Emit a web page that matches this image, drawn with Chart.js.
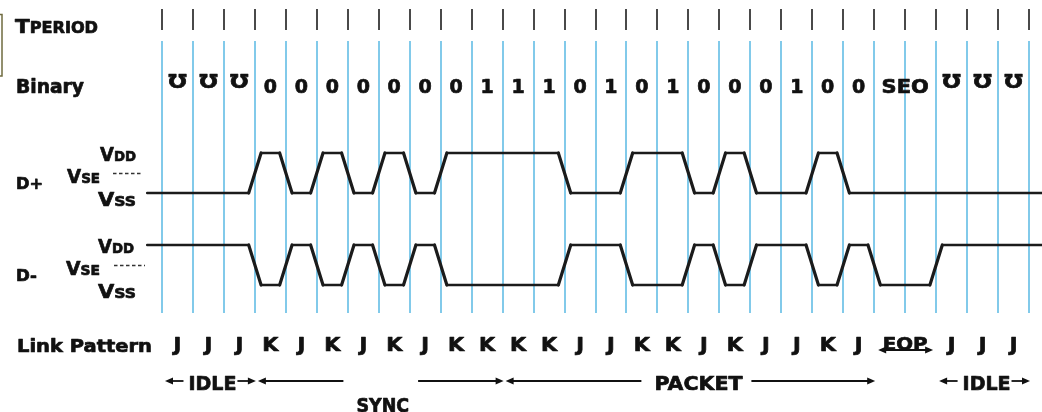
<!DOCTYPE html>
<html>
<head>
<meta charset="utf-8">
<script src="https://cdn.jsdelivr.net/npm/chart.js@4.4.1/dist/chart.umd.min.js"></script>
<style>
html,body{margin:0;padding:0;background:#fff;overflow:hidden}
#wrap{width:1042px;height:412px;position:relative}
canvas{display:block}
</style>
</head>
<body>
<div id="wrap"><canvas id="c" width="1042" height="412"></canvas></div>
<script>
// ---------------- data ----------------
const periodCount = 28;
const IDLE_SYM = '\u01B1';
const binaryLabels = [IDLE_SYM, IDLE_SYM, IDLE_SYM, '0','0','0','0','0','0','0','1','1','1','0','1','0','1','0','0','0','1','0','0','SEO', IDLE_SYM, IDLE_SYM, IDLE_SYM];
const binarySpans  = [1,1,1, 1,1,1,1,1,1,1,1,1,1,1,1,1,1,1,1,1,1,1,1, 2, 1,1,1];
const linkLabels   = ['J','J','J','K','J','K','J','K','J','K','K','K','K','J','J','K','K','J','K','J','J','K','J','EOP','J','J','J'];
const linkSpans    = [1,1,1, 1,1,1,1,1,1,1,1,1,1,1,1,1,1,1,1,1,1,1,1, 2, 1,1,1];
// line level per bit period (1 = VDD, 0 = VSS)
const dPlusLevels  = [0,0,0,1,0,1,0,1,0,1,1,1,1,0,0,1,1,0,1,0,0,1,0,0,0,0,0,0];
const dMinusLevels = [1,1,1,0,1,0,1,0,1,0,0,0,0,1,1,0,0,1,0,1,1,0,1,0,0,1,1,1];
const phaseNames  = ['IDLE','SYNC','PACKET','IDLE'];
const phaseStarts = [0, 3, 11, 25];
const phaseEnds   = [3, 11, 23, 28];

// ---------------- helpers ----------------
const FONT = '"DejaVu Sans", "Liberation Sans", sans-serif';
const CAP = 0.729;
const INK = '#111111';
const HEAVY = 0.7;

function wavePoints(levels){
  const pts = [{x:-0.48, y:levels[0]}];
  for (let k = 1; k < levels.length; k++){
    if (levels[k] !== levels[k-1]){
      pts.push({x:k-0.2, y:levels[k-1]});
      pts.push({x:k+0.2, y:levels[k]});
    }
  }
  pts.push({x:28.6, y:levels[levels.length-1]});
  return pts;
}

function paint(ctx, t, x, y){
  ctx.fillText(t, x, y);
  ctx.strokeText(t, x, y);
}

function fitParts(ctx, parts, x0, x1, cy){
  let nat = 0;
  parts.forEach(([t,s]) => { ctx.font = `bold ${s}px ${FONT}`; nat += ctx.measureText(t).width; });
  const maxS = Math.max(...parts.map(p => p[1]));
  const base = cy + maxS*CAP/2;
  const sx = (x1 - x0)/nat;
  ctx.save();
  ctx.translate(x0, 0); ctx.scale(sx, 1);
  ctx.fillStyle = INK; ctx.strokeStyle = INK; ctx.lineWidth = HEAVY; ctx.lineJoin = 'round';
  ctx.textAlign = 'left'; ctx.textBaseline = 'alphabetic';
  let cx = 0;
  parts.forEach(([t,s]) => { ctx.font = `bold ${s}px ${FONT}`; paint(ctx, t, cx, base); cx += ctx.measureText(t).width; });
  ctx.restore();
}

function centerText(ctx, text, cx, cy, size, sx){
  ctx.save();
  ctx.font = `bold ${size}px ${FONT}`;
  ctx.translate(cx, 0); ctx.scale(sx || 1, 1);
  ctx.fillStyle = INK; ctx.strokeStyle = INK; ctx.lineWidth = HEAVY; ctx.lineJoin = 'round';
  ctx.textAlign = 'center'; ctx.textBaseline = 'alphabetic';
  paint(ctx, text, 0, cy + size*CAP/2);
  ctx.restore();
}

function textWidth(ctx, text, size, sx){
  ctx.save(); ctx.font = `bold ${size}px ${FONT}`;
  const w = ctx.measureText(text).width * (sx || 1);
  ctx.restore(); return w;
}

function arrowHead(ctx, tipX, y, dir){
  ctx.beginPath();
  ctx.moveTo(tipX, y);
  ctx.lineTo(tipX - dir*8, y - 3.4);
  ctx.lineTo(tipX - dir*8, y + 3.4);
  ctx.closePath(); ctx.fill();
}

function hLine(ctx, x0, x1, y){
  ctx.beginPath(); ctx.moveTo(x0, y); ctx.lineTo(x1, y); ctx.stroke();
}

// ---------------- plugin ----------------
const diagramPlugin = {
  id: 'usbDiagram',
  beforeDatasetsDraw(chart){
    const {ctx, scales:{x}} = chart;
    ctx.save();
    ctx.strokeStyle = '#6f6b3f'; ctx.lineWidth = 1.5;
    ctx.strokeRect(-20, 14.5, 22, 61.5);
    for (let k = 0; k <= periodCount; k++){
      const px = Math.round(x.getPixelForValue(k));
      ctx.fillStyle = '#82caea'; ctx.fillRect(px-1, 41, 2, 272);
      ctx.fillStyle = '#4a4a4a'; ctx.fillRect(px-1, 9, 2, 21);
    }
    ctx.restore();
  },
  afterDatasetsDraw(chart){
    const {ctx, scales:{x, yPlus, yMinus}} = chart;
    ctx.save();
    // row titles
    fitParts(ctx, [['T',20],['PERIOD',15]], 15, 98, 25.7);
    fitParts(ctx, [['Binary',19]], 16, 84, 86.5);
    fitParts(ctx, [['Link Pattern',18]], 17, 152, 345);
    // lane labels
    const lanes = [
      {ax:yPlus, name:'D+', nx:[16,43], vdd:[100,136], vse:[67,100], vss:[98,136], dash:[113,143]},
      {ax:yMinus, name:'D-', nx:[16,37], vdd:[98,134], vse:[66,100], vss:[98,136], dash:[114,145]}
    ];
    lanes.forEach(l => {
      const yH = l.ax.getPixelForValue(1), yM = l.ax.getPixelForValue(0.5), yL = l.ax.getPixelForValue(0);
      fitParts(ctx, [[l.name,16]], l.nx[0], l.nx[1], (yM+yL)/2 + 0.5);
      fitParts(ctx, [['V',19],['DD',14]], l.vdd[0], l.vdd[1], yH + 1);
      fitParts(ctx, [['V',19],['SE',14]], l.vse[0], l.vse[1], yM + 3);
      fitParts(ctx, [['V',19],['SS',14]], l.vss[0], l.vss[1], yL + 6);
      ctx.save();
      ctx.strokeStyle = '#333'; ctx.lineWidth = 1.3; ctx.setLineDash([3.5,2.5]);
      hLine(ctx, l.dash[0], l.dash[1], Math.round(yM)+0.5);
      ctx.restore();
    });
    // binary row
    let s = 0;
    binaryLabels.forEach((lab, i) => {
      const span = binarySpans[i];
      const cx = x.getPixelForValue(s + span/2);
      if (lab === IDLE_SYM) centerText(ctx, lab, cx, 81.5, 19, 1.15);
      else centerText(ctx, lab, cx, 86, 19, lab.length > 1 ? 1.1 : 1);
      s += span;
    });
    // link pattern row
    s = 0;
    linkLabels.forEach((lab, i) => {
      const span = linkSpans[i];
      const cx = x.getPixelForValue(s + span/2);
      if (lab.length > 1){
        centerText(ctx, lab, cx, 343.5, 18, 1.1);
        const a0 = x.getPixelForValue(s) + 4, a1 = x.getPixelForValue(s + span) - 3;
        ctx.fillStyle = INK; ctx.strokeStyle = INK; ctx.lineWidth = 1.8;
        hLine(ctx, a0 + 4, a1 - 4, 350);
        arrowHead(ctx, a0, 350, -1);
        arrowHead(ctx, a1, 350, 1);
      } else {
        centerText(ctx, lab, cx, 344, 19, 1.1);
      }
      s += span;
    });
    // phases row
    const ay = 381;
    phaseNames.forEach((name, i) => {
      const xs = x.getPixelForValue(phaseStarts[i]) + 3;
      const xe = x.getPixelForValue(phaseEnds[i]) + 1;
      const mid = (xs + xe)/2;
      const below = name === 'SYNC';
      const sx = below ? 0.92 : (name === 'PACKET' ? 1.08 : 1);
      const shift = name === 'PACKET' ? 6 : 0;
      const w = textWidth(ctx, name, 19, sx);
      const pad = name === 'IDLE' ? 3 : 11;
      centerText(ctx, name, mid + shift + 2, below ? 405 : 383, 19, sx);
      ctx.fillStyle = INK; ctx.strokeStyle = INK; ctx.lineWidth = 1.8;
      hLine(ctx, xs + 6, mid - w/2 - pad + shift, ay);
      hLine(ctx, mid + w/2 + pad + shift, xe - 6, ay);
      arrowHead(ctx, xs, ay, -1);
      arrowHead(ctx, xe, ay, 1);
    });
    ctx.restore();
  }
};

// ---------------- chart ----------------
const step = (1029 - 162) / periodCount;
const xMin = -162 / step;
const xMax = periodCount + (1042 - 1029) / step;

const lineStyle = {
  borderColor: '#1b1b1b',
  borderWidth: 2.4,
  borderCapStyle: 'round',
  borderJoinStyle: 'miter',
  pointRadius: 0,
  tension: 0,
  fill: false,
  clip: false,
  segment: { borderWidth: c => (c.p0.parsed.y !== c.p1.parsed.y ? 3.2 : 2.4) }
};

new Chart(document.getElementById('c').getContext('2d'), {
  type: 'line',
  data: {
    datasets: [
      Object.assign({label: 'D+', data: wavePoints(dPlusLevels), yAxisID: 'yPlus'}, lineStyle),
      Object.assign({label: 'D-', data: wavePoints(dMinusLevels), yAxisID: 'yMinus'}, lineStyle)
    ]
  },
  options: {
    responsive: false,
    animation: false,
    events: [],
    layout: { padding: 0 },
    plugins: { legend: { display: false }, tooltip: { enabled: false } },
    scales: {
      x:      { type: 'linear', display: false, min: xMin, max: xMax },
      yPlus:  { type: 'linear', display: false, min: -5.475, max: 4.825 },
      yMinus: { type: 'linear', display: false, min: -3.175, max: 7.125 }
    }
  },
  plugins: [diagramPlugin]
});
</script>
</body>
</html>
